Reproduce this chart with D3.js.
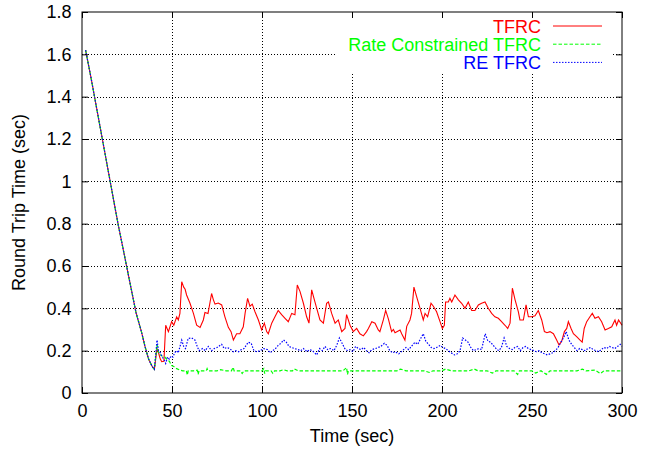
<!DOCTYPE html>
<html>
<head>
<meta charset="utf-8">
<script src="https://cdn.jsdelivr.net/npm/d3@7"></script>
<style>
  body { margin: 0; background: #fff; }
  text { font-family: "Liberation Sans", Arial, sans-serif; font-size: 18px; }
</style>
</head>
<body>
<div id="chart"></div>
<script>
// shared start-up descent (all three flows overlap here)
const startT = [2, 5, 10, 15, 20, 25, 30, 33, 35, 37, 39, 40.2];
const startV = [1.62, 1.49, 1.26, 1.03, 0.80, 0.59, 0.38, 0.29, 0.22, 0.16, 0.125, 0.112];

const tfrcT = [41.7, 42.5, 43.5, 44.3, 45.5, 46.5, 48, 49.8, 51, 52.6, 53.5, 54.4, 55.4, 56.5, 57.3, 58.1, 60, 61.9, 63.7, 65.6,
  67.4, 68.3, 70, 72, 73, 73.9, 75.7, 77.6, 79.4, 81.3, 82.8, 84.1, 85.9, 87.7, 89.6, 90.6, 92, 93.3, 94.6, 96.1,
  98, 99.8, 101.3, 102.6, 103.5, 105.4, 107.2, 109, 110.9, 112.8, 114.6, 116.5, 118.3, 119.6, 121.1, 123, 124.8, 126.1, 127.6, 129.1,
  130.4, 132.2, 134.1, 135.9, 136.9, 138.7, 140.6, 142.4, 144.3, 146.1, 147, 148.9, 150.7, 152.6, 154.4, 156.3, 158.1, 159.1, 161, 162.8,
  164.6, 165.5, 167.4, 168.7, 170.2, 172, 173, 173.9, 176.7, 177.6, 179.4, 180.4, 182.2, 183.1, 184.4, 185.9, 187.8, 189.6, 190.6, 192,
  193.9, 195.2, 197, 198.9, 200.2, 201.3, 202, 203.5, 204.4, 205.4, 207.2, 209.1, 210.9, 212.8, 214.6, 216.5, 218.3, 220.2, 222, 223.9,
  225.7, 227.6, 229.4, 231.3, 233.1, 235, 236.5, 237.8, 239.1, 240.6, 242.4, 243.3, 245.2, 246.7, 248, 249.8, 251.7, 253.5, 255.4, 256.9,
  258.3, 260, 261.9, 263.7, 265, 266.5, 268, 269.3, 270.2, 271.7, 273, 274.8, 276.7, 277.9, 279, 280.4, 282.2, 283.5, 285, 286.9,
  288.7, 290.6, 292.4, 294.3, 296.1, 297, 298.1, 300];
const tfrcV = [0.21, 0.19, 0.16, 0.148, 0.15, 0.32, 0.29, 0.337, 0.32, 0.36, 0.345, 0.376, 0.526, 0.50, 0.49, 0.463, 0.424, 0.376, 0.32, 0.31,
  0.345, 0.38, 0.375, 0.47, 0.44, 0.42, 0.425, 0.416, 0.36, 0.31, 0.29, 0.25, 0.28, 0.28, 0.313, 0.376, 0.447, 0.41, 0.42, 0.384,
  0.345, 0.298, 0.33, 0.29, 0.28, 0.33, 0.36, 0.39, 0.37, 0.353, 0.337, 0.376, 0.37, 0.51, 0.48, 0.424, 0.36, 0.33, 0.487, 0.44,
  0.40, 0.345, 0.33, 0.424, 0.43, 0.376, 0.33, 0.345, 0.29, 0.305, 0.37, 0.32, 0.29, 0.305, 0.28, 0.27, 0.29, 0.305, 0.337, 0.33,
  0.298, 0.29, 0.345, 0.39, 0.35, 0.29, 0.30, 0.285, 0.298, 0.28, 0.25, 0.315, 0.345, 0.376, 0.50, 0.455, 0.40, 0.345, 0.376, 0.36,
  0.424, 0.41, 0.384, 0.337, 0.305, 0.32, 0.43, 0.43, 0.447, 0.43, 0.463, 0.44, 0.424, 0.40, 0.43, 0.39, 0.39, 0.416, 0.424, 0.43,
  0.40, 0.376, 0.36, 0.353, 0.337, 0.32, 0.305, 0.33, 0.495, 0.44, 0.384, 0.345, 0.345, 0.416, 0.36, 0.36, 0.365, 0.39, 0.345, 0.29,
  0.285, 0.29, 0.28, 0.25, 0.227, 0.245, 0.29, 0.305, 0.337, 0.305, 0.28, 0.266, 0.25, 0.24, 0.305, 0.337, 0.36, 0.376, 0.353, 0.36,
  0.337, 0.298, 0.305, 0.313, 0.345, 0.32, 0.345, 0.32];

const rcT = [41.7, 42.5, 43.5, 44.5, 46, 47.5, 48.5, 49.8, 51, 52.6, 54, 55, 56, 58, 58.5, 59, 62, 64, 64.5, 65,
  69, 69.5, 70, 75, 77, 80, 83, 84, 84.5, 88, 89, 90, 95, 100, 101, 101.5, 102, 105, 106, 107,
  110, 112, 114, 117, 118, 120, 125, 130, 135, 140, 145, 147, 147.5, 148, 150, 155, 160, 165, 170, 175,
  177, 180, 185, 190, 193, 195, 200, 202, 205, 210, 215, 218, 220, 225, 228, 230, 235, 240, 242, 243,
  245, 250, 252, 255, 258, 260, 265, 270, 275, 278, 280, 285, 288, 290, 295, 300];
const rcV = [0.23, 0.19, 0.18, 0.175, 0.17, 0.155, 0.15, 0.13, 0.125, 0.115, 0.11, 0.107, 0.105, 0.105, 0.085, 0.105, 0.105, 0.108, 0.088, 0.105,
  0.105, 0.115, 0.105, 0.105, 0.11, 0.105, 0.105, 0.122, 0.105, 0.105, 0.092, 0.105, 0.105, 0.105, 0.115, 0.092, 0.105, 0.105, 0.093, 0.105,
  0.105, 0.11, 0.105, 0.105, 0.114, 0.105, 0.105, 0.105, 0.105, 0.105, 0.105, 0.12, 0.088, 0.105, 0.105, 0.105, 0.105, 0.105, 0.105, 0.105,
  0.113, 0.105, 0.105, 0.105, 0.097, 0.105, 0.105, 0.113, 0.105, 0.105, 0.105, 0.113, 0.105, 0.105, 0.094, 0.105, 0.105, 0.105, 0.088, 0.105,
  0.105, 0.105, 0.094, 0.105, 0.088, 0.105, 0.105, 0.105, 0.105, 0.113, 0.105, 0.108, 0.092, 0.105, 0.105, 0.105];

const reT = [41.7, 42.5, 43.5, 44.5, 45.5, 46.5, 47.5, 48.5, 49.5, 50.5, 51.5, 52.5, 53.5, 55.4, 56.5, 57.5, 59, 60.9, 62.8, 64,
  65, 67, 68.5, 70.2, 72, 73.5, 75, 77.6, 79, 80.5, 82, 84, 85.5, 87, 88.5, 90, 92.4, 94, 95.5, 97,
  99, 101, 103, 104.5, 106, 107.5, 109, 110.5, 112, 113.5, 115, 116.5, 118, 120, 121.5, 123, 125, 126.5, 128, 130.4,
  132, 133.5, 135, 136.5, 138, 140, 141.5, 143, 144.5, 146, 147.5, 149, 150.5, 152, 153.5, 155, 156.5, 158, 159.5, 161,
  163, 164.5, 166, 168, 169.5, 171, 172.5, 174, 176, 178, 180, 181.5, 183, 185, 186.5, 188, 189.6, 191, 192.5, 194,
  195.5, 197, 199, 200.5, 202, 203.5, 205, 207, 208.5, 210, 211.5, 213, 214.5, 216, 217.5, 219, 220.5, 222, 224, 225.5,
  227, 228.5, 230, 231.5, 233, 234.5, 236, 237.5, 239, 240.5, 242, 243.5, 245, 246.5, 248, 249.5, 251, 252.5, 254, 255.5,
  257, 258.5, 260, 261.5, 263, 264.5, 266, 267.5, 269, 270.5, 272, 273.5, 275, 276.5, 278, 279.5, 281, 282.5, 284, 285.5,
  287, 288.5, 290, 291.5, 293, 294.5, 296, 297.5, 299, 300];
const reV = [0.25, 0.20, 0.19, 0.17, 0.16, 0.14, 0.17, 0.16, 0.175, 0.17, 0.19, 0.20, 0.19, 0.25, 0.22, 0.21, 0.258, 0.26, 0.25, 0.22,
  0.20, 0.21, 0.20, 0.22, 0.20, 0.21, 0.215, 0.23, 0.21, 0.215, 0.21, 0.195, 0.20, 0.195, 0.205, 0.21, 0.24, 0.235, 0.20, 0.195,
  0.20, 0.21, 0.205, 0.19, 0.20, 0.21, 0.225, 0.235, 0.25, 0.24, 0.22, 0.215, 0.21, 0.205, 0.20, 0.21, 0.195, 0.205, 0.20, 0.18,
  0.21, 0.20, 0.22, 0.205, 0.21, 0.20, 0.225, 0.26, 0.235, 0.21, 0.20, 0.205, 0.195, 0.22, 0.21, 0.205, 0.215, 0.20, 0.19, 0.205,
  0.21, 0.215, 0.22, 0.235, 0.225, 0.20, 0.19, 0.195, 0.185, 0.20, 0.215, 0.205, 0.22, 0.24, 0.23, 0.255, 0.28, 0.245, 0.23, 0.215,
  0.21, 0.215, 0.225, 0.215, 0.21, 0.20, 0.19, 0.18, 0.185, 0.20, 0.26, 0.25, 0.24, 0.215, 0.20, 0.205, 0.21, 0.205, 0.28, 0.245,
  0.24, 0.225, 0.21, 0.20, 0.215, 0.26, 0.22, 0.21, 0.205, 0.215, 0.22, 0.20, 0.215, 0.22, 0.21, 0.205, 0.20, 0.195, 0.20, 0.19,
  0.185, 0.18, 0.185, 0.19, 0.20, 0.215, 0.24, 0.26, 0.29, 0.25, 0.23, 0.215, 0.20, 0.21, 0.205, 0.20, 0.21, 0.215, 0.205, 0.20,
  0.195, 0.205, 0.215, 0.21, 0.22, 0.215, 0.21, 0.22, 0.23, 0.22];

const xTicks = [0, 50, 100, 150, 200, 250, 300];
const yTicks = [0, 0.2, 0.4, 0.6, 0.8, 1, 1.2, 1.4, 1.6, 1.8];

const series = [
  { name: 'TFRC', color: '#ff0000', dash: null, width: 1.1, t: tfrcT, v: tfrcV },
  { name: 'Rate Constrained TFRC', color: '#00ff00', dash: '3.5,2', width: 1.2, t: rcT, v: rcV },
  { name: 'RE TFRC', color: '#0000ff', dash: '1.5,1.5', width: 1.2, t: reT, v: reV }
];

const W = 656, H = 450;
const M = { left: 82, right: 34, top: 12, bottom: 57 };

const svg = d3.select('#chart').append('svg')
  .attr('width', W).attr('height', H);

const x = d3.scaleLinear().domain([0, 300]).range([M.left, W - M.right]);
const y = d3.scaleLinear().domain([0, 1.8]).range([H - M.bottom, M.top]);

// grid
const grid = svg.append('g');
yTicks.slice(1, -1).forEach(v => {
  grid.append('line')
    .attr('x1', x(0)).attr('x2', x(300))
    .attr('y1', Math.round(y(v)) + 0.5).attr('y2', Math.round(y(v)) + 0.5)
    .style('stroke', '#000').style('stroke-dasharray', '1,2');
});
xTicks.slice(1, -1).forEach(t => {
  grid.append('line')
    .attr('x1', Math.round(x(t)) + 0.5).attr('x2', Math.round(x(t)) + 0.5)
    .attr('y1', y(0)).attr('y2', y(1.8))
    .style('stroke', '#000').style('stroke-dasharray', '1,2');
});

// key area hides the grid behind it
svg.append('rect')
  .attr('x', 337).attr('y', y(1.8) + 1)
  .attr('width', 275).attr('height', 60)
  .style('fill', '#fff');

// data
const line = d3.line().x(d => x(d[0])).y(d => y(d[1]));
series.forEach(s => {
  const pts = startT.map((t, i) => [t, startV[i]])
    .concat(s.t.map((t, i) => [t, s.v[i]]));
  svg.append('path')
    .datum(pts)
    .attr('d', line)
    .style('fill', 'none')
    .style('stroke', s.color)
    .style('stroke-width', s.width)
    .style('stroke-dasharray', s.dash);
});

// axes: gnuplot style inward ticks on all four sides
const axisB = d3.axisBottom(x).tickValues(xTicks).tickSize(-6).tickPadding(11).tickFormat(d3.format('d'));
const axisT = d3.axisTop(x).tickValues(xTicks).tickSize(-6).tickFormat('');
const axisL = d3.axisLeft(y).tickValues(yTicks).tickSize(-6).tickPadding(10.5).tickFormat(d => String(+d.toFixed(1)));
const axisR = d3.axisRight(y).tickValues(yTicks).tickSize(-6).tickFormat('');

[[axisB, `translate(0,${y(0)})`], [axisT, `translate(0,${y(1.8)})`],
 [axisL, `translate(${x(0)},0)`], [axisR, `translate(${x(300)},0)`]].forEach(([ax, tr]) => {
  const g = svg.append('g').attr('transform', tr).call(ax);
  g.select('.domain').remove();
  g.selectAll('line').style('stroke', '#000');
  g.selectAll('text').style('font-size', '18px').style('font-family', '"Liberation Sans", Arial, sans-serif').style('fill', '#000');
});

svg.append('rect')
  .attr('x', x(0)).attr('y', y(1.8))
  .attr('width', x(300) - x(0)).attr('height', y(0) - y(1.8))
  .style('fill', 'none').style('stroke', '#000').style('stroke-width', 1);

// axis labels
svg.append('text')
  .attr('x', (x(0) + x(300)) / 2).attr('y', 442)
  .attr('text-anchor', 'middle').text('Time (sec)');
svg.append('text')
  .attr('transform', `translate(25,${(y(0) + y(1.8)) / 2}) rotate(-90)`)
  .attr('text-anchor', 'middle').text('Round Trip Time (sec)');

// key
series.forEach((s, i) => {
  const ky = 26 + i * 18.2;
  svg.append('text')
    .attr('x', 541).attr('y', ky + 7)
    .attr('text-anchor', 'end')
    .style('fill', s.color)
    .text(s.name);
  svg.append('line')
    .attr('x1', 553).attr('x2', 602)
    .attr('y1', ky).attr('y2', ky)
    .style('stroke', s.color)
    .style('stroke-dasharray', s.dash);
});
</script>
</body>
</html>
